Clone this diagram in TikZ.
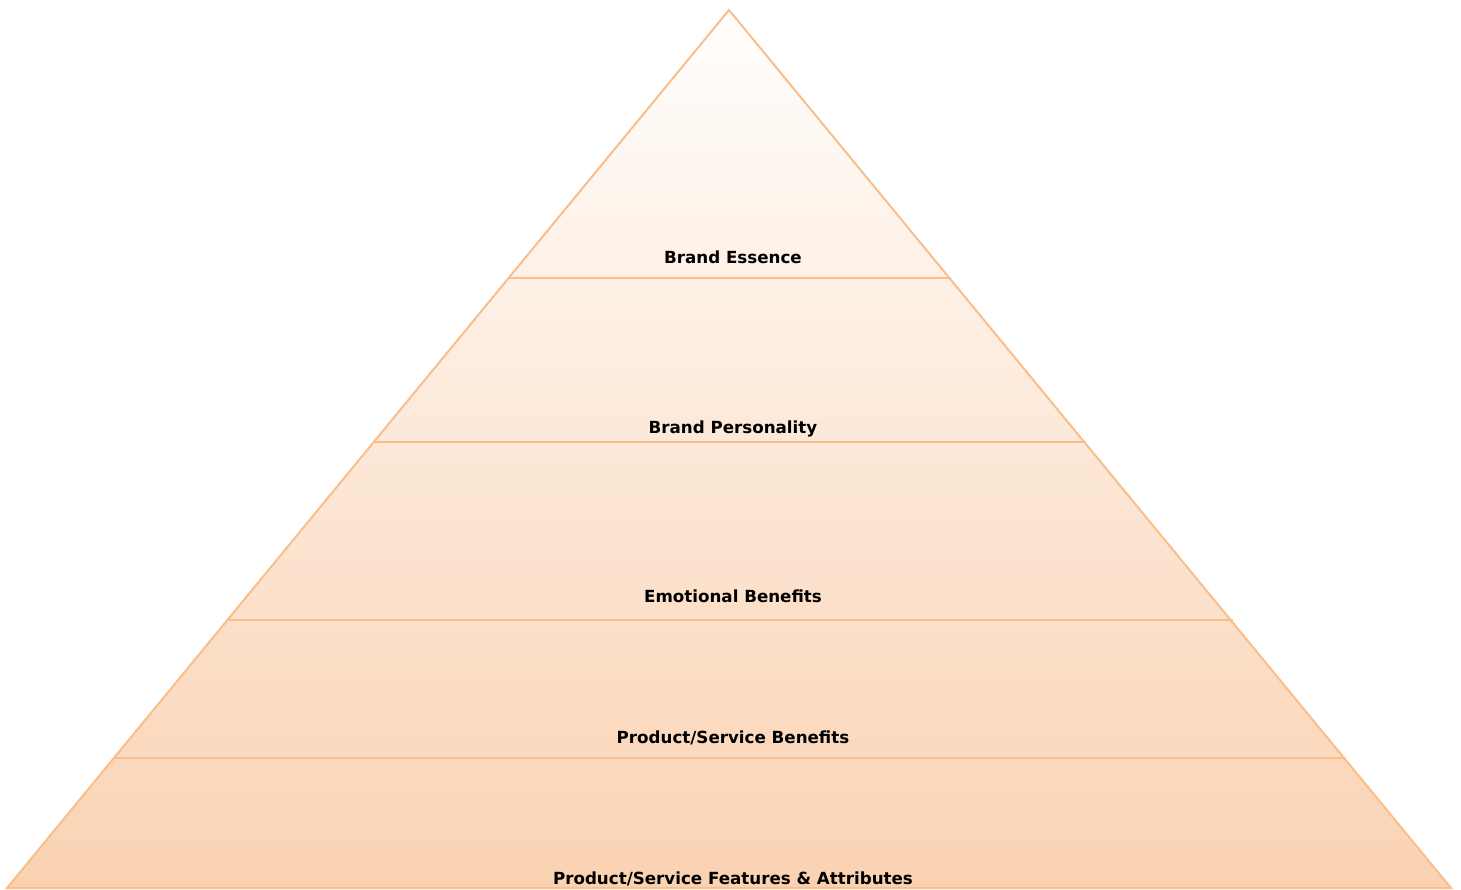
\documentclass[tikz,border=0pt]{standalone}
\usepackage{fontspec}
\setmainfont{DejaVu Sans}
\usetikzlibrary{calc}
\definecolor{edgeorange}{HTML}{F8BE8B}
\definecolor{fillbottom}{HTML}{FAD2B2}
\definecolor{filltop}{HTML}{FFFEFD}
\tikzset{
  tier/.style={draw=edgeorange, line width=2pt},
  tierlabel/.style={anchor=base, inner sep=0pt, font=\bfseries\fontsize{16.7}{20}\selectfont, text=black}
}
\begin{document}
\begin{tikzpicture}[x=1pt, y=-1pt]
  \useasboundingbox (0,0) rectangle (1461,890);
  % outer triangle
  \coordinate (apex) at (729,10);
  \coordinate (bl) at (7,888);
  \coordinate (br) at (1451,888);
  \shade[top color=filltop, bottom color=fillbottom] (apex) -- (bl) -- (br) -- cycle;
  % tier separators
  \foreach \t/\n in {0.3052/a, 0.4920/b, 0.6948/c, 0.8519/d} {
    \coordinate (l\n) at ($(apex)!\t!(bl)$);
    \coordinate (r\n) at ($(apex)!\t!(br)+(2,0)$);
    \draw[tier] (l\n) -- (r\n);
  }
  \draw[tier, line join=miter] (apex) -- (bl) -- (br) -- cycle;
  % tier labels
  \node[tierlabel] (essence) at (733,264) {Brand Essence};
  \node[tierlabel] (personality) at (733,433) {Brand Personality};
  \node[tierlabel] (emotional) at (733,602) {Emotional Benefits};
  \node[tierlabel] (benefits) at (733,743) {Product/Service Benefits};
  \node[tierlabel] (features) at (733,884) {Product/Service Features \& Attributes};
\end{tikzpicture}
\end{document}
